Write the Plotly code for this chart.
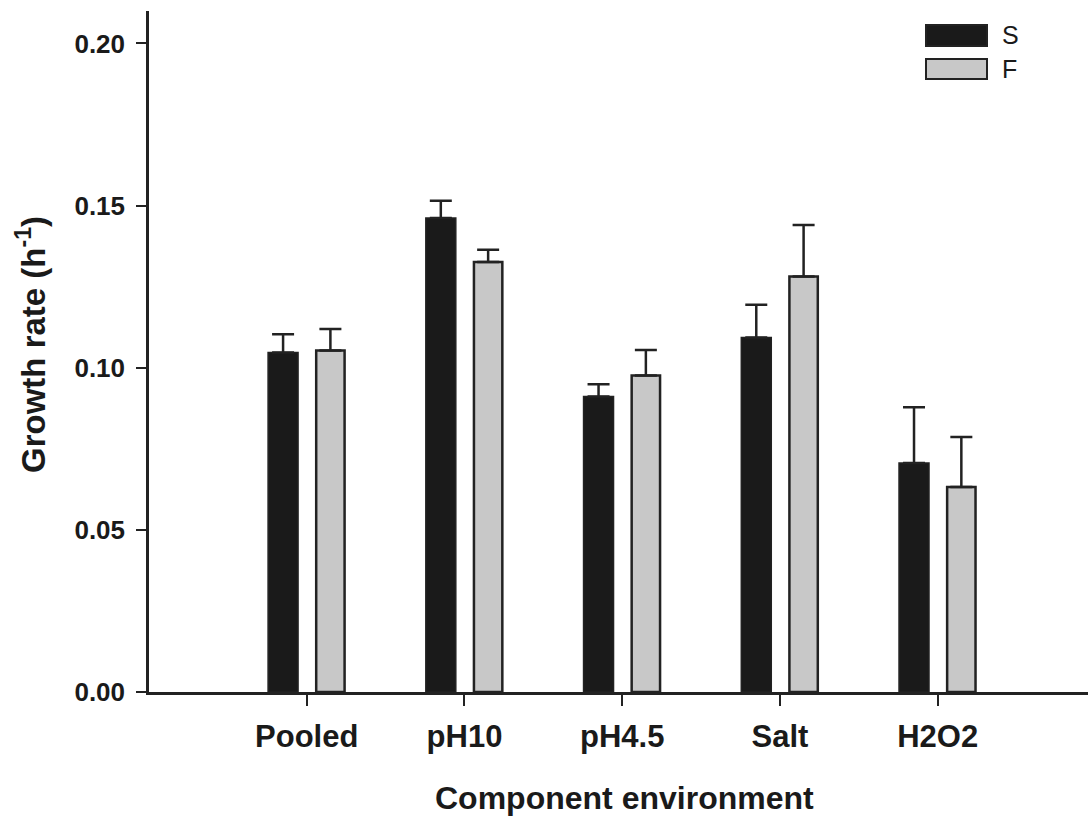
import plotly.graph_objects as go

categories = ["Pooled", "pH10", "pH4.5", "Salt", "H2O2"]
s_values = [0.1047, 0.1462, 0.0911, 0.1093, 0.0706]
s_errors = [0.0056, 0.0053, 0.0038, 0.0101, 0.0172]
f_values = [0.1053, 0.1326, 0.0976, 0.1281, 0.0632]
f_errors = [0.0066, 0.0038, 0.0079, 0.0159, 0.0154]
y_ticks = [0.00, 0.05, 0.10, 0.15, 0.20]
y_tick_labels = ["0.00", "0.05", "0.10", "0.15", "0.20"]

FONT = "Liberation Sans, Arial, sans-serif"
LINE = "#222222"

W, H = 1088, 816
L, R, T, B = 149, 0, 11, 124
PW, PH = W - L - R, H - T - B

def px_x(px):
    return (px - L) / PW

def px_y(py):
    return (H - B - py) / PH

fig = go.Figure()
fig.add_trace(go.Bar(
    x=list(range(len(categories))), y=s_values, name="S",
    width=0.19, offset=-0.245,
    marker=dict(color="#1a1a1a", line=dict(color=LINE, width=1.5)),
    error_y=dict(type="data", symmetric=False, array=s_errors,
                 arrayminus=[0] * len(s_errors),
                 color=LINE, thickness=2.5, width=11),
    showlegend=False,
))
fig.add_trace(go.Bar(
    x=list(range(len(categories))), y=f_values, name="F",
    width=0.18, offset=0.06,
    marker=dict(color="#c8c8c8", line=dict(color=LINE, width=2.5)),
    error_y=dict(type="data", symmetric=False, array=f_errors,
                 arrayminus=[0] * len(f_errors),
                 color=LINE, thickness=2.5, width=11),
    showlegend=False,
))

fig.update_layout(
    width=W, height=H,
    margin=dict(l=L, r=R, t=T, b=B, pad=0),
    plot_bgcolor="white", paper_bgcolor="white",
    font=dict(family=FONT, color="#1a1a1a"),
    xaxis=dict(
        range=[-1, 4.953], tickmode="array",
        tickvals=list(range(len(categories))), ticktext=categories,
        ticks="outside", ticklen=11, tickwidth=2, tickcolor=LINE,
        showline=True, linecolor=LINE, linewidth=2.5,
        showgrid=False, zeroline=False,
        tickfont=dict(family=FONT, size=31, weight="bold", color="#1a1a1a"),
        ticklabelstandoff=4,
    ),
    yaxis=dict(
        range=[0, 0.21], tickmode="array",
        tickvals=y_ticks, ticktext=y_tick_labels,
        ticks="outside", ticklen=10, tickwidth=2, tickcolor=LINE,
        showline=True, linecolor=LINE, linewidth=2.5,
        showgrid=False, zeroline=False,
        tickfont=dict(family=FONT, size=26, weight="bold", color="#1a1a1a"),
        ticklabelstandoff=6,
    ),
)

# axis titles
fig.add_annotation(
    xref="paper", yref="paper", x=px_x(31), y=px_y(345),
    text="Growth rate (h<sup>-1</sup>)", textangle=-90, showarrow=False,
    xanchor="center", yanchor="middle",
    font=dict(family=FONT, size=33, weight="bold", color="#1a1a1a"),
)
fig.add_annotation(
    xref="paper", yref="paper", x=px_x(624), y=px_y(798),
    text="Component environment", showarrow=False,
    xanchor="center", yanchor="middle",
    font=dict(family=FONT, size=32, weight="bold", color="#1a1a1a"),
)

# legend
legend_items = [("S", "#1a1a1a", 25, 46), ("F", "#c8c8c8", 59, 79)]
for label, color, y0, y1 in legend_items:
    fig.add_shape(
        type="rect", xref="paper", yref="paper",
        x0=px_x(926), x1=px_x(987), y0=px_y(y1), y1=px_y(y0),
        fillcolor=color, line=dict(color=LINE, width=2),
    )
    fig.add_annotation(
        xref="paper", yref="paper", x=px_x(1000), y=px_y((y0 + y1) / 2),
        text=label, showarrow=False, xanchor="left", yanchor="middle",
        font=dict(family=FONT, size=25, color="#1a1a1a"),
    )

fig.write_html("out.html")
